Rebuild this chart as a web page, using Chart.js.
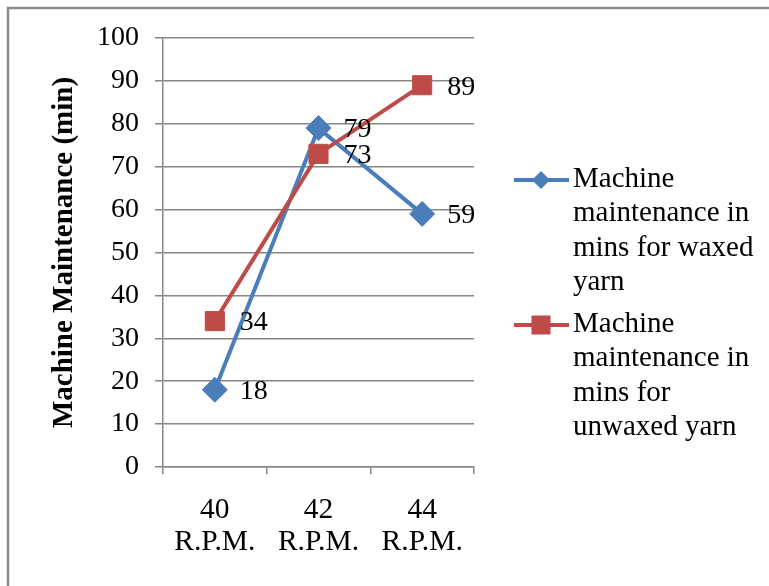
<!DOCTYPE html>
<html>
<head>
<meta charset="utf-8">
<script src="https://cdn.jsdelivr.net/npm/chart.js@4/dist/chart.umd.min.js"></script>
<style>
  html, body { margin: 0; padding: 0; background: #fff; overflow: hidden; }
  #wrap { width: 769px; height: 586px; }
</style>
</head>
<body>
<div id="wrap"><canvas id="chart" width="769" height="586"></canvas></div>
<script>
// rpm settings on the x axis, minutes on the y axis
const rpmLabels = [['40', 'R.P.M.'], ['42', 'R.P.M.'], ['44', 'R.P.M.']];
const waxedMinutes = [18, 79, 59];
const unwaxedMinutes = [34, 73, 89];
const waxedName = ['Machine', 'maintenance in', 'mins for waxed', 'yarn'];
const unwaxedName = ['Machine', 'maintenance in', 'mins for', 'unwaxed yarn'];
const yMin = 0, yMax = 100, yStep = 10;

const BLUE = '#4A7EBB';
const RED = '#BE4B48';
const GRID = '#868686';
const SERIF = "'Times New Roman', 'Liberation Serif', serif";

// numbers written to the right of each point
const valueLabels = {
  id: 'valueLabels',
  afterDatasetsDraw(chart) {
    const ctx = chart.ctx;
    ctx.save();
    ctx.font = '28px ' + SERIF;
    ctx.fillStyle = '#000';
    ctx.textBaseline = 'middle';
    ctx.textAlign = 'left';
    chart.data.datasets.forEach((ds, i) => {
      chart.getDatasetMeta(i).data.forEach((pt, j) => {
        ctx.fillText(String(ds.data[j]), pt.x + 25, pt.y + 2);
      });
    });
    ctx.restore();
  }
};

// legend on the right: line + marker swatch, wrapped series name
const sideLegend = {
  id: 'sideLegend',
  afterDraw(chart) {
    const ctx = chart.ctx;
    const area = chart.chartArea;
    const x0 = area.right;
    const lineH = 34.5;
    let y = area.top + 141;
    ctx.save();
    ctx.font = '29px ' + SERIF;
    ctx.textBaseline = 'middle';
    ctx.textAlign = 'left';
    chart.data.datasets.forEach((ds, i) => {
      const name = i ? unwaxedName : waxedName;
      const my = y + 1;
      ctx.strokeStyle = ds.borderColor;
      ctx.fillStyle = ds.borderColor;
      ctx.lineWidth = 4;
      ctx.beginPath();
      ctx.moveTo(x0 + 40, my);
      ctx.lineTo(x0 + 95, my);
      ctx.stroke();
      const cx = x0 + 67;
      ctx.beginPath();
      if (ds.pointStyle === 'rectRot') {
        ctx.moveTo(cx, my - 9); ctx.lineTo(cx + 9, my); ctx.lineTo(cx, my + 9); ctx.lineTo(cx - 9, my);
      } else {
        ctx.rect(cx - 9.5, my - 9.5, 19, 19);
      }
      ctx.closePath();
      ctx.fill();
      ctx.fillStyle = '#000';
      name.forEach((line, k) => ctx.fillText(line, x0 + 99, y + k * lineH));
      y += name.length * lineH + 7;
    });
    ctx.restore();
  }
};

// outer frame of the chart object
const frame = {
  id: 'frame',
  beforeDraw(chart) {
    const ctx = chart.ctx;
    ctx.save();
    ctx.strokeStyle = '#8a8a8a';
    ctx.lineWidth = 2.5;
    ctx.strokeRect(8, 8, chart.width + 20, chart.height + 20);
    ctx.restore();
  }
};

const ctx = document.getElementById('chart').getContext('2d');
const chart = new Chart(ctx, {
  type: 'line',
  data: {
    labels: rpmLabels,
    datasets: [{
      label: waxedName.join(' '),
      data: waxedMinutes,
      borderColor: BLUE,
      backgroundColor: BLUE,
      borderWidth: 4,
      pointStyle: 'rectRot',
      pointRadius: 12.5,
      pointBorderWidth: 1,
      pointHoverRadius: 12.5,
      tension: 0,
      order: 1
    }, {
      label: unwaxedName.join(' '),
      data: unwaxedMinutes,
      borderColor: RED,
      backgroundColor: RED,
      borderWidth: 4,
      pointStyle: 'rect',
      pointRadius: 13.5,
      pointBorderWidth: 1,
      pointHoverRadius: 13.5,
      tension: 0,
      order: 0
    }]
  },
  options: {
    responsive: false,
    animation: false,
    layout: { padding: { left: 30, top: 38, right: 769 - 474, bottom: 15 } },
    plugins: {
      tooltip: { enabled: false },
      legend: { display: false }
    },
    scales: {
      x: {
        offset: true,
        grid: { offset: true, drawOnChartArea: false, drawTicks: true, tickLength: 7, color: GRID, lineWidth: 1.5 },
        border: { color: GRID, width: 1.5 },
        ticks: { color: '#000', padding: 20, maxRotation: 0, autoSkip: false,
          font: { family: SERIF, size: 29.5, lineHeight: 32 / 29.5 } },
        afterFit(s) { s.height = 586 - 15 - 467; }
      },
      y: {
        min: yMin,
        max: yMax,
        grid: { color: GRID, lineWidth: 1.5, tickLength: 8 },
        border: { color: GRID, width: 1.5 },
        ticks: { stepSize: yStep, color: '#000', padding: 16,
          font: { family: SERIF, size: 28 } },
        title: {
          display: true,
          text: 'Machine Maintenance (min)',
          color: '#000',
          padding: { top: 17, bottom: 0 },
          font: { family: SERIF, size: 29, weight: 'bold' }
        },
        afterFit(s) { s.width = 163 - 30; }
      }
    }
  },
  plugins: [valueLabels, sideLegend, frame]
});
</script>
</body>
</html>
